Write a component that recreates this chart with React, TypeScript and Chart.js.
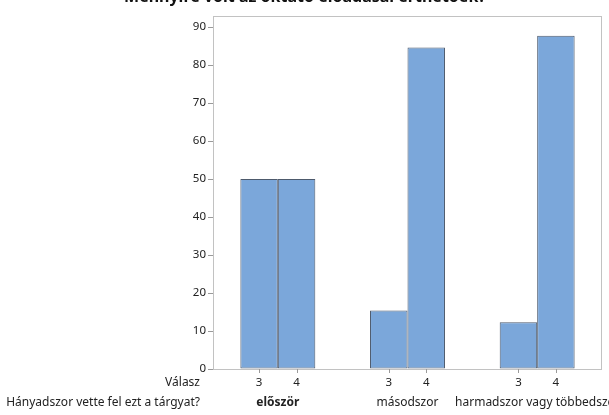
import React, { useEffect, useRef } from "react";
import { Chart, registerables } from "chart.js";

Chart.register(...registerables);

const categories = ["először", "másodszor", "harmadszor vagy többedszer"];
const answers = ["3", "4"];
const values3 = [50, 15.4, 12.3];
const values4 = [50, 84.6, 87.7];
const yMax = 92.9;
const yStep = 10;

const titleText = "Mennyire volt az oktató előadásai érthetőek?";
const answerLabel = "Válasz";
const groupLabel = "Hányadszor vette fel ezt a tárgyat?";

const FONT = "'Noto Sans', 'DejaVu Sans', sans-serif";

export default function App() {
  const ref = useRef<HTMLCanvasElement | null>(null);

  useEffect(() => {
    document.body.style.margin = "0";
    const canvas = ref.current;
    if (!canvas) return;

    const overlay = {
      id: "overlay",
      afterDatasetsDraw(chart: any) {
        const ctx = chart.ctx;
        const a = chart.chartArea;
        ctx.save();
        // frame
        ctx.strokeStyle = "#c2c2c2";
        ctx.lineWidth = 1;
        ctx.strokeRect(a.left + 0.5, a.top + 0.5, a.right - a.left - 1, a.bottom - a.top);
        // bar ticks and labels
        ctx.fillStyle = "#222";
        ctx.font = `11.5px ${FONT}`;
        ctx.textAlign = "center";
        ctx.textBaseline = "middle";
        for (let d = 0; d < chart.data.datasets.length; d++) {
          const meta = chart.getDatasetMeta(d);
          meta.data.forEach((el: any) => {
            const x = Math.round(el.x) + 0.5;
            ctx.beginPath();
            ctx.strokeStyle = "#9a9a9a";
            ctx.moveTo(x, a.bottom);
            ctx.lineTo(x, a.bottom + 4);
            ctx.stroke();
            ctx.fillText(answers[d], el.x, 383);
          });
        }
        // group labels
        const xs = chart.scales.x;
        categories.forEach((c, i) => {
          ctx.font = i === 0 ? `bold 12px ${FONT}` : `12px ${FONT}`;
          ctx.fillText(c, xs.getPixelForValue(i), 403);
        });
        ctx.font = `12px ${FONT}`;
        ctx.textAlign = "right";
        ctx.fillText(answerLabel, 200, 383);
        ctx.fillText(groupLabel, 200, 403);
        // clipped title
        ctx.font = `bold 16px ${FONT}`;
        ctx.textAlign = "center";
        ctx.textBaseline = "alphabetic";
        ctx.fillStyle = "#111";
        ctx.fillText(titleText, 305, 2);
        ctx.restore();
      },
    };

    const chart = new Chart(canvas, {
      type: "bar",
      data: {
        labels: categories,
        datasets: [
          {
            label: answers[0],
            data: values3,
            backgroundColor: "#7ba7da",
            borderColor: "#4d5a6c",
            borderWidth: 1,
            borderSkipped: false,
            barPercentage: 1,
            categoryPercentage: 0.578,
          },
          {
            label: answers[1],
            data: values4,
            backgroundColor: "#7ba7da",
            borderColor: "#4d5a6c",
            borderWidth: 1,
            borderSkipped: false,
            barPercentage: 1,
            categoryPercentage: 0.578,
          },
        ],
      },
      options: {
        responsive: false,
        animation: false,
        layout: { padding: { top: 16, right: 7, left: 0, bottom: 0 } },
        plugins: {
          legend: { display: false },
          tooltip: { enabled: false },
          title: { display: false },
        },
        scales: {
          x: {
            grid: { display: false },
            border: { display: false },
            ticks: { display: false },
            afterFit(scale: any) {
              scale.height = 46;
            },
          },
          y: {
            min: 0,
            max: yMax,
            grid: {
              drawOnChartArea: false,
              drawTicks: true,
              tickLength: 5,
              color: "#9a9a9a",
            },
            border: { display: true, color: "#c2c2c2" },
            ticks: {
              stepSize: yStep,
              includeBounds: false,
              color: "#222",
              padding: 2,
              font: { size: 11.5, family: FONT },
            },
            afterFit(scale: any) {
              scale.width = 213;
            },
          },
        },
      },
      plugins: [overlay],
    });

    return () => chart.destroy();
  }, []);

  return <canvas ref={ref} width={609} height={415} style={{ display: "block" }} />;
}
